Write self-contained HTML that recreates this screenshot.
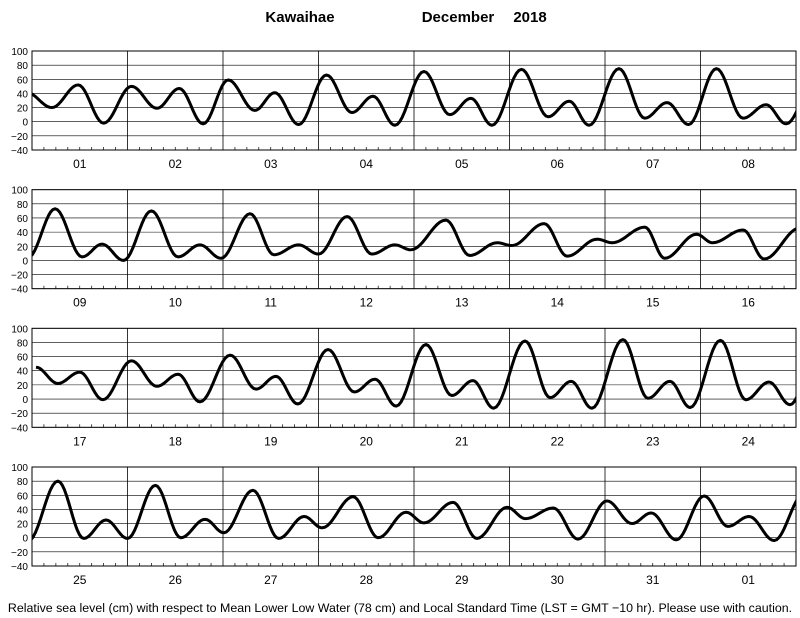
<!DOCTYPE html>
<html><head><meta charset="utf-8"><style>
body{margin:0;background:#fff;}
svg{display:block;font-family:"Liberation Sans",sans-serif;}
</style></head><body>
<svg id="chart" width="800" height="618" viewBox="0 0 800 618" xmlns="http://www.w3.org/2000/svg">
<text x="300" y="22" font-size="15" font-weight="bold" text-anchor="middle">Kawaihae</text>
<text x="458" y="22" font-size="15" font-weight="bold" text-anchor="middle">December</text>
<text x="530" y="22" font-size="15" font-weight="bold" text-anchor="middle">2018</text>
<text x="400" y="612" font-size="12.4" text-anchor="middle">Relative sea level (cm) with respect to Mean Lower Low Water (78 cm) and Local Standard Time (LST = GMT −10 hr). Please use with caution.</text>
</svg>
<script>
const dayLabels = [["01","02","03","04","05","06","07","08"],["09","10","11","12","13","14","15","16"],["17","18","19","20","21","22","23","24"],["25","26","27","28","29","30","31","01"]];
const yTicks = [100,80,60,40,20,0,-20,-40];
const tideHours1 = [-1.5,5,11.6,18,25,31.4,37,43,49.3,56,61,67,74,80.4,85.7,91.2,98.5,105,110.3,115.6,123,129.7,135,140,147.5,154,159.6,165,172,178.7,184.5,189.5,197];
const tideLevels1 = [42,20,52,-2,50,19,47,-3,59,16,41,-4,66,13,36,-5,71,10,33,-5,74,7,29,-5,75,5,27,-4,75,5,24,-3,60];
const tideHours2 = [-1,5.8,12.6,17.6,23,30,36.7,42.2,47.5,54.8,60.8,67,72,79.2,85.4,91.2,95.2,104,110,116.9,120.6,128.7,134.5,142,145.8,154,159,167,171,178.7,184,193];
const tideLevels2 = [4,73,5,23,0,70,5,22,3,66,8,22,9,62,9,22,15,57,7,25,21,52,6,30,25,47,3,37,25,43,2,46];
const tideHours3 = [1,6.5,12,17.8,25,31.4,36.7,42.2,49.8,56.3,61.3,66.8,74.4,81,86.2,91.5,99,105.5,110.8,116,123.9,130.2,135.5,140.7,148.5,154.8,160.3,165.4,173,179.4,185.2,190.5,197];
const tideLevels3 = [45,22,38,-1,54,18,35,-4,62,14,32,-7,70,10,28,-10,77,5,26,-13,82,2,25,-13,84,1,25,-12,83,-1,24,-8,60];
const tideHours4 = [-1,6.5,13,18.6,24,31,37.4,43.5,48.2,55.5,62,68.4,72.9,80.7,87,94,98.5,105.8,111.8,119.4,124,131,137.2,144.5,150.8,155.6,161.9,168.9,174.9,180.2,186.5,194];
const tideLevels4 = [-5,80,-1,25,-1,74,0,26,7,67,-1,30,14,58,0,36,21,50,-1,43,27,42,-2,52,20,35,-3,59,16,30,-4,62];
const tideHours = [tideHours1,tideHours2,tideHours3,tideHours4];
const tideLevels = [tideLevels1,tideLevels2,tideLevels3,tideLevels4];

const svg = document.getElementById('chart');
const NS = 'http://www.w3.org/2000/svg';
const X0 = 32, X1 = 796, PH = 99, tops = [51,189.7,328.3,467];
function mk(tag, attrs){const e=document.createElementNS(NS,tag);for(const k in attrs)e.setAttribute(k,attrs[k]);svg.appendChild(e);return e;}
function xS(h){return X0 + h*(X1-X0)/192;}
function yS(v,top){return top + (100-v)/140*PH;}

tops.forEach((top,p)=>{
  const bot = top+PH;
  const defs = mk('clipPath',{id:'clip'+p});
  const r = document.createElementNS(NS,'rect');
  r.setAttribute('x',X0);r.setAttribute('y',top);r.setAttribute('width',X1-X0);r.setAttribute('height',PH);
  defs.appendChild(r);
  yTicks.forEach(v=>{
    const y = yS(v,top);
    const g = mk('line',{x1:X0,x2:X1,y1:y,y2:y,stroke:'#000','stroke-width':0.6});
    
    
    const t = mk('text',{x:28,y:y+4,'font-size':10,'text-anchor':'end'});
    t.textContent = v<0 ? '−'+Math.abs(v) : String(v);
    
    
  });
  for(let d=1; d<8; d++){
    const x = xS(d*24);
    const l = mk('line',{x1:x,x2:x,y1:top,y2:bot,stroke:'#000','stroke-width':0.8});
    
    
  }
  for(let h=3; h<192; h+=3){
    if(h%24===0) continue;
    const x = xS(h);
    const l = mk('line',{x1:x,x2:x,y1:bot-3,y2:bot,stroke:'#000','stroke-width':0.7});
    
    
  }
  const fr = mk('rect',{x:X0,y:top,width:X1-X0,height:PH,fill:'none',stroke:'#000','stroke-width':1});
  
  
  dayLabels[p].forEach((lab,i)=>{
    const t = mk('text',{x:xS(i*24+12),y:bot+18,'font-size':12,'text-anchor':'middle'});
    t.textContent = lab;
    
    
  });
  const hs = tideHours[p], vs = tideLevels[p];
  let d = '';
  for(let i=0;i<hs.length-1;i++){
    const h0=hs[i],h1=hs[i+1],v0=vs[i],v1=vs[i+1];
    for(let s=0;s<=12;s++){
      const f=s/12, h=h0+(h1-h0)*f;
      const v=v0+(v1-v0)*(1-Math.cos(Math.PI*f))/2;
      d += (d?'L':'M')+xS(h).toFixed(2)+','+yS(v,top).toFixed(2);
    }
  }
  const path = mk('path',{d:d,fill:'none',stroke:'#000','stroke-width':3,'clip-path':'url(#clip'+p+')','stroke-linejoin':'round'});
  
  
});
</script>
</body></html>
